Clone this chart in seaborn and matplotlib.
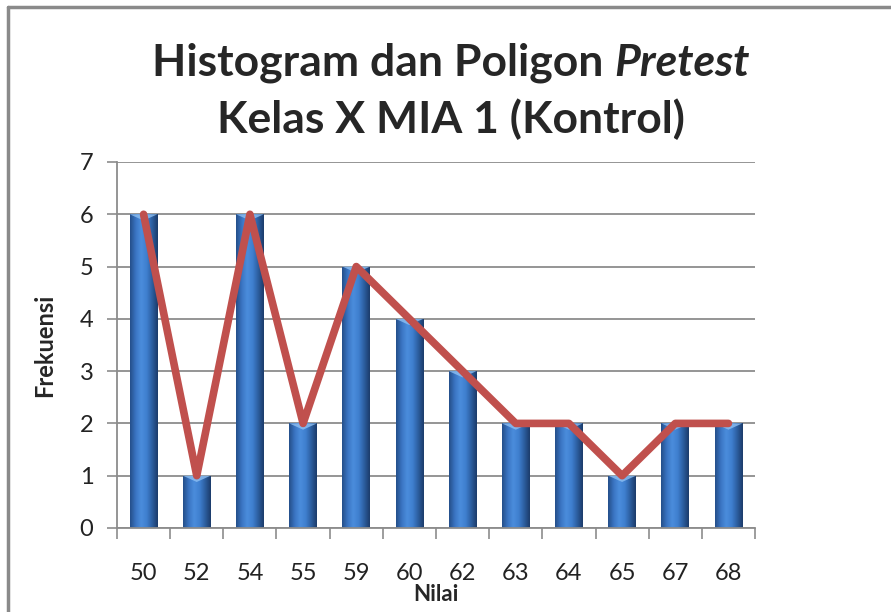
import numpy as np
import matplotlib.pyplot as plt
import seaborn as sns
from matplotlib.colors import LinearSegmentedColormap

# Data
nilai = ["50", "52", "54", "55", "59", "60", "62", "63", "64", "65", "67", "68"]
frekuensi = [6, 1, 6, 2, 5, 4, 3, 2, 2, 1, 2, 2]
y_ticks = [0, 1, 2, 3, 4, 5, 6, 7]

sns.set_theme(style="white")
plt.rcParams['font.family'] = ['Lato', 'DejaVu Sans']

fig = plt.figure(figsize=(8.91, 6.12), dpi=100)
ax = fig.add_axes([0.1313, 0.1373, 0.7161, 0.598])

# bars, then a cylinder-like gradient painted inside each one
sns.barplot(x=nilai, y=frekuensi, color='#3f7ccc', width=0.52,
            saturation=1, ax=ax, zorder=2)
grad = LinearSegmentedColormap.from_list(
    'cyl', ['#244f8a', '#3a74c2', '#4b8ddc', '#3f7fcf', '#2c5e9f', '#1c3c6b'])
shade = np.linspace(0, 1, 64).reshape(1, -1)
for bar in ax.patches:
    x0, y0 = bar.get_x(), bar.get_y()
    w, h = bar.get_width(), bar.get_height()
    im = ax.imshow(shade, cmap=grad, aspect='auto', zorder=2.5,
                   extent=[x0, x0 + w, y0, y0 + h], interpolation='bicubic')
    im.set_clip_path(bar)
    bar.set_edgecolor('none')
    # small light cap at the top of the cylinder
    ax.fill([x0, x0 + w, x0 + w / 2], [y0 + h, y0 + h, y0 + h - 0.12],
            color='#8fc0f2', alpha=0.8, zorder=2.6, lw=0)

# polygon line
sns.pointplot(x=nilai, y=frekuensi, color='#c0504d', markers='',
              linewidth=5.5, ax=ax, zorder=4)
for ln in ax.lines:
    ln.set_solid_joinstyle('round')
    ln.set_solid_capstyle('round')

ax.set_xlim(-0.5, len(nilai) - 0.5)
ax.set_ylim(0, 7)
ax.set_yticks(y_ticks)
ax.yaxis.grid(True, color='#8c8c8c', lw=1.3, zorder=0)
ax.set_axisbelow(True)

for s in ['top', 'right']:
    ax.spines[s].set_visible(False)
for s in ['left', 'bottom']:
    ax.spines[s].set_color('#8c8c8c')
    ax.spines[s].set_linewidth(1.3)

# Excel-style ticks between categories
ax.set_xticks(np.arange(-0.5, len(nilai), 1.0), minor=True)
ax.tick_params(axis='x', which='minor', length=8, width=1.2, color='#8c8c8c',
               direction='out', bottom=True)
ax.tick_params(axis='x', which='major', length=0, pad=25, labelsize=17,
               labelcolor='#222222')
ax.tick_params(axis='y', length=7, width=1.2, color='#8c8c8c', left=True,
               direction='out', pad=10, labelsize=17, labelcolor='#222222')

ax.set_xlabel('Nilai', fontsize=16, fontweight='bold', labelpad=0)
ax.set_ylabel('Frekuensi', fontsize=17, fontweight='bold', labelpad=17)

# title, with "Pretest" in italic
t1 = fig.text(0, 0.897, 'Histogram dan Poligon ', ha='left', va='center',
              fontsize=32, fontweight='bold')
t2 = fig.text(0, 0.897, 'Pretest', ha='left', va='center',
              fontsize=32, fontweight='bold', style='italic')
r = fig.canvas.get_renderer()
w1 = t1.get_window_extent(r).width / fig.bbox.width
w2 = t2.get_window_extent(r).width / fig.bbox.width
start = 0.5065 - (w1 + w2) / 2
t1.set_x(start)
t2.set_x(start + w1)
fig.text(0.5065, 0.806, 'Kelas X MIA 1 (Kontrol)', ha='center', va='center',
         fontsize=32, fontweight='bold')

# chart frame (left and top edges visible)
fig.add_artist(plt.Line2D([0.0095, 0.0095], [0, 0.988], color='#8a8a8a',
                          lw=2.5, transform=fig.transFigure))
fig.add_artist(plt.Line2D([0.0095, 1], [0.988, 0.988], color='#8a8a8a',
                          lw=2.5, transform=fig.transFigure))

fig.savefig('out.png', dpi=100)
